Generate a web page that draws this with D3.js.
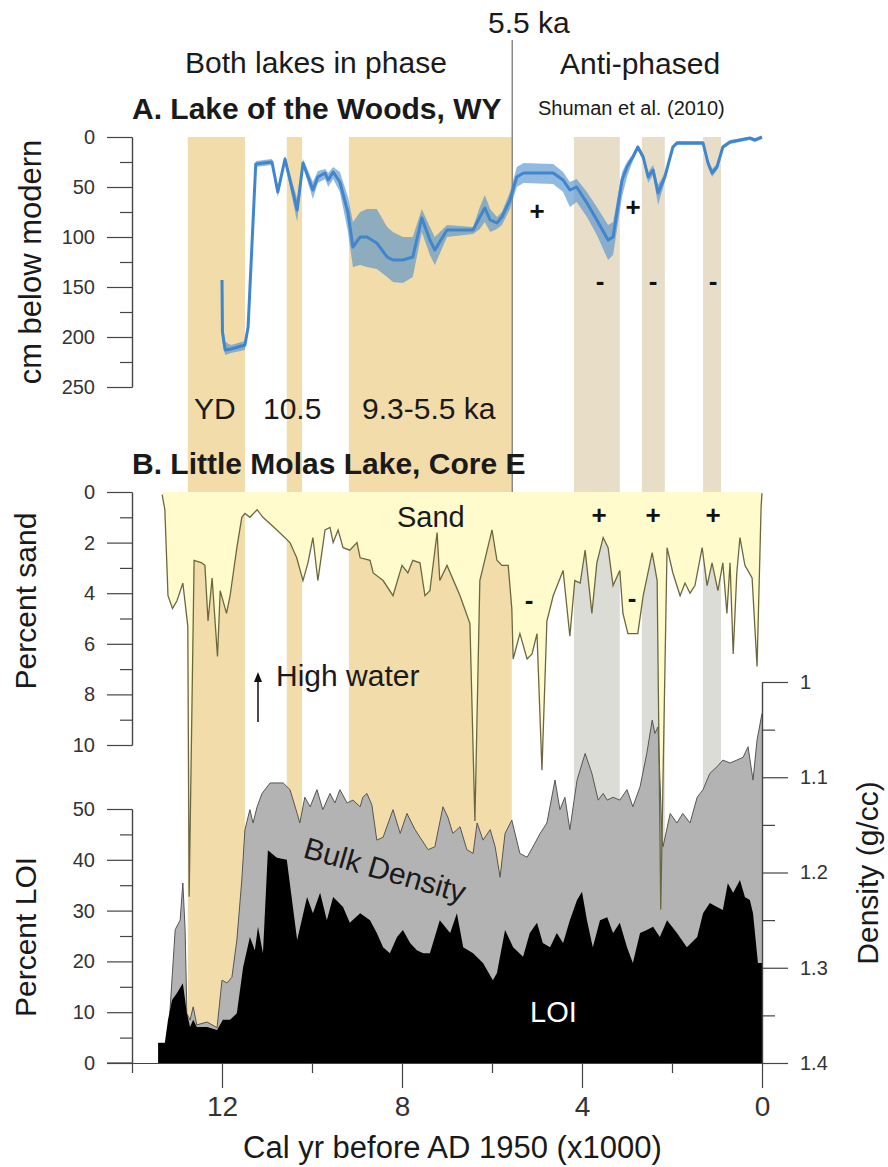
<!DOCTYPE html>
<html lang="en">
<head>
	<meta charset="UTF-8">
	<title>Lake of the Woods / Little Molas Lake</title>
	<script src="https://cdn.jsdelivr.net/npm/d3@7"></script>
	<style>
		body { margin: 0; background: white; }
		svg text { font-family: "Liberation Sans", Arial, Helvetica, sans-serif; }
	</style>
</head>
<body>
	<div id="vis"></div>

	<script>
		var width = 888;
		var height = 1167;

		// ---- data ----
		// shaded intervals (ka)
		var wetBands = [[12.76, 11.49], [10.56, 10.22], [9.18, 5.56]];
		var antiBands = [[4.18, 3.16], [2.67, 2.16], [1.31, 0.91]];

		// A. Lake of the Woods: age (ka), depth (cm below modern), uncertainty envelope
		var lwAge   = [12.00, 11.99, 11.93, 11.80, 11.49, 11.42, 11.25, 10.89, 10.76, 10.60, 10.33, 10.20, 9.98, 9.87, 9.71, 9.64, 9.53, 9.38, 9.20, 9.09, 8.93, 8.78, 8.56, 8.33, 8.20, 7.98, 7.76, 7.56, 7.38, 7.27, 7.00, 6.42, 6.27, 6.16, 6.04, 5.89, 5.78, 5.60, 5.45, 5.30, 4.64, 4.42, 4.27, 4.12, 3.89, 3.67, 3.42, 3.31, 3.11, 3.00, 2.87, 2.76, 2.64, 2.53, 2.42, 2.31, 2.16, 1.98, 1.89, 1.31, 1.20, 1.11, 1.00, 0.87, 0.71, 0.27, 0.16, 0.00];
		var lwDepth = [143, 195, 213, 212, 208, 190, 27, 25, 55, 22, 73, 26, 53, 40, 36, 43, 35, 45, 76, 110, 100, 100, 106, 120, 123, 123, 120, 81, 103, 113, 93, 93, 80, 71, 83, 86, 80, 63, 40, 36, 36, 43, 53, 50, 66, 83, 103, 100, 43, 30, 20, 10, 20, 40, 33, 56, 40, 10, 6, 6, 26, 36, 30, 10, 5, 1, 3, 0];
		var lwLo    = [140, 185, 205, 208, 204, 185, 24, 22, 50, 19, 62, 22, 45, 34, 32, 36, 30, 35, 60, 85, 75, 72, 72, 90, 95, 100, 100, 72, 90, 100, 88, 90, 70, 58, 72, 80, 75, 55, 30, 26, 27, 35, 45, 42, 55, 70, 88, 85, 35, 25, 17, 8, 17, 35, 28, 48, 36, 8, 4, 4, 22, 32, 27, 8, 3, 0, 1, 0];
		var lwHi    = [146, 205, 218, 216, 213, 195, 30, 28, 60, 26, 85, 30, 62, 46, 42, 50, 42, 55, 95, 130, 128, 130, 132, 140, 145, 146, 140, 95, 118, 128, 100, 97, 92, 85, 95, 92, 88, 72, 50, 46, 47, 55, 70, 65, 80, 98, 123, 118, 60, 40, 24, 13, 24, 46, 38, 68, 45, 12, 8, 8, 30, 40, 33, 12, 7, 3, 5, 2];

		// B. Little Molas Lake: percent sand
		var sandAge = [13.33, 13.27, 13.20, 13.10, 13.00, 12.87, 12.76, 12.73, 12.62, 12.45, 12.38, 12.31, 12.22, 12.10, 12.04, 11.90, 11.82, 11.67, 11.56, 11.49, 11.38, 11.22, 11.09, 10.78, 10.49, 10.34, 10.20, 10.09, 9.98, 9.87, 9.71, 9.60, 9.53, 9.42, 9.31, 9.16, 9.00, 8.93, 8.71, 8.64, 8.42, 8.20, 8.00, 7.87, 7.76, 7.60, 7.49, 7.38, 7.22, 7.16, 7.00, 6.71, 6.49, 6.38, 6.27, 6.00, 5.89, 5.78, 5.64, 5.56, 5.53, 5.38, 5.22, 5.11, 5.00, 4.89, 4.78, 4.64, 4.42, 4.27, 4.16, 4.04, 3.93, 3.78, 3.67, 3.53, 3.42, 3.31, 3.16, 3.09, 2.98, 2.76, 2.64, 2.44, 2.33, 2.25, 2.11, 1.98, 1.82, 1.71, 1.60, 1.49, 1.33, 1.22, 1.11, 0.98, 0.87, 0.78, 0.71, 0.64, 0.56, 0.49, 0.38, 0.22, 0.11, 0.02, 0.00];
		var sandPct = [0.1, 0.7, 4.1, 4.6, 4.3, 3.6, 5.3, 16.0, 2.7, 2.8, 2.9, 5.1, 3.4, 6.5, 3.9, 4.8, 4.1, 2.2, 1.0, 0.85, 1.0, 0.7, 1.0, 1.5, 2.0, 2.6, 3.5, 2.8, 1.8, 3.5, 1.5, 1.4, 2.0, 1.5, 2.2, 2.3, 2.0, 2.6, 2.7, 3.2, 3.5, 4.1, 2.9, 3.2, 2.7, 2.8, 4.1, 3.9, 1.6, 3.5, 2.9, 4.1, 5.2, 13.0, 3.5, 1.5, 2.7, 2.9, 2.9, 4.6, 6.6, 5.6, 6.6, 6.4, 5.6, 11.0, 5.1, 4.1, 3.1, 5.7, 3.5, 3.6, 2.3, 4.8, 2.8, 1.8, 2.2, 3.7, 3.1, 4.8, 5.6, 5.6, 4.1, 2.4, 3.5, 16.5, 2.2, 3.2, 4.1, 3.6, 4.0, 3.7, 2.2, 3.7, 2.8, 3.9, 2.8, 4.8, 2.8, 6.4, 3.2, 1.8, 2.9, 3.4, 6.9, 0.6, 0.05];

		// bulk density (g/cc)
		var denAge = [13.16, 13.04, 12.93, 12.87, 12.82, 12.78, 12.71, 12.64, 12.56, 12.33, 12.11, 12.00, 11.89, 11.78, 11.67, 11.56, 11.49, 11.38, 11.31, 11.22, 11.11, 10.93, 10.64, 10.49, 10.33, 10.27, 10.16, 10.04, 9.89, 9.76, 9.60, 9.49, 9.38, 9.22, 9.09, 8.93, 8.87, 8.78, 8.67, 8.56, 8.42, 8.20, 8.04, 7.89, 7.71, 7.60, 7.42, 7.27, 7.09, 6.98, 6.87, 6.71, 6.56, 6.42, 6.33, 6.20, 6.04, 5.93, 5.82, 5.71, 5.56, 5.38, 5.22, 5.09, 4.93, 4.78, 4.60, 4.49, 4.38, 4.27, 4.11, 3.93, 3.78, 3.64, 3.53, 3.44, 3.31, 3.16, 3.00, 2.87, 2.71, 2.56, 2.44, 2.38, 2.31, 2.22, 2.20, 2.04, 1.89, 1.76, 1.60, 1.44, 1.31, 1.16, 1.00, 0.87, 0.71, 0.56, 0.42, 0.31, 0.20, 0.11, 0.00];
		var denVal = [1.348, 1.260, 1.250, 1.211, 1.260, 1.348, 1.355, 1.341, 1.360, 1.357, 1.363, 1.313, 1.316, 1.310, 1.271, 1.208, 1.155, 1.134, 1.148, 1.131, 1.117, 1.106, 1.106, 1.113, 1.138, 1.148, 1.121, 1.131, 1.113, 1.134, 1.117, 1.127, 1.113, 1.127, 1.124, 1.131, 1.121, 1.117, 1.129, 1.166, 1.163, 1.134, 1.159, 1.138, 1.155, 1.163, 1.176, 1.173, 1.131, 1.142, 1.159, 1.152, 1.176, 1.180, 1.148, 1.166, 1.155, 1.173, 1.205, 1.159, 1.145, 1.180, 1.184, 1.173, 1.159, 1.148, 1.103, 1.134, 1.121, 1.155, 1.103, 1.075, 1.096, 1.124, 1.117, 1.124, 1.121, 1.124, 1.113, 1.131, 1.110, 1.075, 1.040, 1.054, 1.047, 1.166, 1.173, 1.138, 1.148, 1.138, 1.148, 1.121, 1.113, 1.096, 1.089, 1.082, 1.085, 1.082, 1.079, 1.068, 1.103, 1.061, 1.033];

		// loss on ignition (%)
		var loiAge = [13.42, 13.27, 13.20, 13.11, 13.00, 12.87, 12.78, 12.71, 12.64, 12.56, 12.33, 12.11, 11.98, 11.82, 11.67, 11.53, 11.38, 11.27, 11.20, 11.09, 10.98, 10.78, 10.56, 10.33, 10.11, 9.98, 9.82, 9.67, 9.53, 9.31, 9.16, 8.93, 8.71, 8.56, 8.42, 8.27, 8.11, 7.98, 7.82, 7.67, 7.53, 7.38, 7.16, 6.93, 6.78, 6.64, 6.42, 6.20, 5.98, 5.89, 5.71, 5.53, 5.31, 5.16, 5.00, 4.87, 4.71, 4.56, 4.42, 4.27, 4.11, 4.00, 3.89, 3.76, 3.60, 3.44, 3.31, 3.16, 3.00, 2.87, 2.71, 2.56, 2.42, 2.27, 2.11, 1.89, 1.67, 1.44, 1.31, 1.16, 1.00, 0.87, 0.76, 0.64, 0.49, 0.38, 0.27, 0.20, 0.09, 0.00];
		var loiPct = [4.0, 4.0, 8.5, 12.4, 13.8, 15.7, 9.8, 7.1, 8.5, 7.1, 7.1, 6.5, 8.5, 8.5, 9.8, 18.9, 24.8, 22.2, 26.8, 21.6, 41.9, 40.4, 40.0, 24.2, 32.7, 29.5, 33.5, 28.1, 32.7, 30.7, 27.6, 29.5, 28.1, 25.6, 22.8, 21.6, 24.8, 26.2, 23.6, 22.2, 21.6, 21.6, 28.1, 25.6, 29.5, 22.8, 21.6, 19.7, 16.3, 17.7, 26.2, 22.8, 20.9, 25.6, 27.6, 23.6, 22.8, 25.6, 23.6, 28.1, 32.1, 33.7, 28.1, 22.8, 28.1, 28.7, 25.6, 27.6, 22.8, 19.7, 25.6, 26.2, 26.8, 24.8, 28.1, 25.6, 22.8, 24.8, 29.5, 31.5, 30.7, 30.1, 35.4, 33.5, 36.0, 32.7, 32.1, 29.5, 19.7, 19.7];

		// tick values
		var xMajor = [12, 8, 4, 0];
		var xMinor = [14, 10, 6, 2];
		var depthMajor = [0, 50, 100, 150, 200, 250];
		var depthMinor = [25, 75, 125, 175, 225];
		var sandMajor = [0, 2, 4, 6, 8, 10];
		var sandMinor = [1, 3, 5, 7, 9];
		var loiMajor = [0, 10, 20, 30, 40, 50];
		var loiMinor = [5, 15, 25, 35, 45];
		var denMajor = [1.0, 1.1, 1.2, 1.3, 1.4];
		var denMinor = [1.05, 1.15, 1.25, 1.35];

		// ---- scales ----
		var x = d3.scaleLinear().domain([14, 0]).range([132, 762]);
		var yA = d3.scaleLinear().domain([0, 250]).range([137, 387]);
		var ySand = d3.scaleLinear().domain([0, 10]).range([492, 745]);
		var yLoi = d3.scaleLinear().domain([0, 50]).range([1063, 809]);
		var yDen = d3.scaleLinear().domain([1.0, 1.4]).range([682, 1063]);

		var svg = d3.select("#vis").append("svg")
				.attr("width", width)
				.attr("height", height);

		// ---- shaded intervals ----
		var bandTop = yA(0), bandBottom = yLoi(0), splitY = ySand(0);
		svg.selectAll("rect.wet").data(wetBands).enter().append("rect")
			.attr("x", function(d) { return x(d[0]); })
			.attr("width", function(d) { return x(d[1]) - x(d[0]); })
			.attr("y", bandTop)
			.attr("height", bandBottom - bandTop)
			.attr("fill", "#f2dcaa");

		svg.selectAll("rect.antiTop").data(antiBands).enter().append("rect")
			.attr("x", function(d) { return x(d[0]); })
			.attr("width", function(d) { return x(d[1]) - x(d[0]); })
			.attr("y", bandTop)
			.attr("height", splitY - bandTop)
			.attr("fill", "#e8dec8");

		svg.selectAll("rect.antiBot").data(antiBands).enter().append("rect")
			.attr("x", function(d) { return x(d[0]); })
			.attr("width", function(d) { return x(d[1]) - x(d[0]); })
			.attr("y", splitY)
			.attr("height", bandBottom - splitY)
			.attr("fill", "#dcdcd6");

		// 5.5 ka divider
		svg.append("line")
			.attr("x1", x(5.55)).attr("x2", x(5.55))
			.attr("y1", 40).attr("y2", splitY)
			.attr("stroke", "#8a8a8a")
			.attr("stroke-width", 1.5);

		// ---- panel A ----
		var idxA = d3.range(lwAge.length);
		svg.append("path")
			.attr("d", d3.area()
				.x(function(i) { return x(lwAge[i]); })
				.y0(function(i) { return yA(lwLo[i]); })
				.y1(function(i) { return yA(lwHi[i]); })(idxA))
			.attr("fill", "#4a8ccc")
			.attr("fill-opacity", 0.6);

		svg.append("path")
			.attr("d", d3.line()
				.x(function(i) { return x(lwAge[i]); })
				.y(function(i) { return yA(lwDepth[i]); })(idxA))
			.attr("fill", "none")
			.attr("stroke", "#3f86cf")
			.attr("stroke-width", 3)
			.attr("stroke-linejoin", "round");

		// ---- panel B: sand ----
		var idxS = d3.range(sandAge.length);
		svg.append("path")
			.attr("d", d3.area()
				.x(function(i) { return x(sandAge[i]); })
				.y0(ySand(0))
				.y1(function(i) { return ySand(sandPct[i]); })(idxS))
			.attr("fill", "#fffbcd");

		// bulk density (filled down to the axis)
		var idxD = d3.range(denAge.length);
		svg.append("path")
			.attr("d", d3.area()
				.x(function(i) { return x(denAge[i]); })
				.y0(yDen(1.4))
				.y1(function(i) { return yDen(denVal[i]); })(idxD))
			.attr("fill", "#b3b3b3");
		svg.append("path")
			.attr("d", d3.line()
				.x(function(i) { return x(denAge[i]); })
				.y(function(i) { return yDen(denVal[i]); })(idxD))
			.attr("fill", "none")
			.attr("stroke", "#555")
			.attr("stroke-width", 1);

		// LOI
		var idxL = d3.range(loiAge.length);
		svg.append("path")
			.attr("d", d3.area()
				.x(function(i) { return x(loiAge[i]); })
				.y0(yLoi(0))
				.y1(function(i) { return yLoi(loiPct[i]); })(idxL))
			.attr("fill", "#000");

		// sand line on top
		svg.append("path")
			.attr("d", d3.line()
				.x(function(i) { return x(sandAge[i]); })
				.y(function(i) { return ySand(sandPct[i]); })(idxS))
			.attr("fill", "none")
			.attr("stroke", "#6b6840")
			.attr("stroke-width", 1.3);

		// ---- axes ----
		function styleAxis(g, fontSize) {
			g.selectAll("path, line").attr("stroke", "#444").attr("stroke-width", 1.2);
			g.selectAll("text").attr("fill", "#333").style("font-size", fontSize + "px");
		}

		function leftAxis(scale, major, minor, fmt) {
			svg.append("g")
				.attr("transform", "translate(132,0)")
				.call(d3.axisLeft(scale).tickValues(major).tickSize(25).tickSizeOuter(0).tickPadding(12).tickFormat(fmt))
				.call(styleAxis, 20);
			svg.append("g")
				.attr("transform", "translate(132,0)")
				.call(d3.axisLeft(scale).tickValues(minor).tickSize(12).tickSizeOuter(0).tickFormat(""))
				.call(styleAxis, 20);
		}

		leftAxis(yA, depthMajor, depthMinor, d3.format("d"));
		leftAxis(ySand, sandMajor, sandMinor, d3.format("d"));
		leftAxis(yLoi, loiMajor, loiMinor, d3.format("d"));

		// right density axis
		svg.append("g")
			.attr("transform", "translate(762,0)")
			.call(d3.axisRight(yDen).tickValues(denMajor).tickSize(26).tickSizeOuter(0).tickPadding(12)
				.tickFormat(function(d) { return d === 1 ? "1" : d3.format(".1f")(d); }))
			.call(styleAxis, 20);
		svg.append("g")
			.attr("transform", "translate(762,0)")
			.call(d3.axisRight(yDen).tickValues(denMinor).tickSize(13).tickSizeOuter(0).tickFormat(""))
			.call(styleAxis, 20);

		// x axis
		svg.append("g")
			.attr("transform", "translate(0," + yLoi(0) + ")")
			.call(d3.axisBottom(x).tickValues(xMajor).tickSize(25).tickSizeOuter(0).tickPadding(8).tickFormat(d3.format("d")))
			.call(styleAxis, 28);
		svg.append("g")
			.attr("transform", "translate(0," + yLoi(0) + ")")
			.call(d3.axisBottom(x).tickValues(xMinor).tickSize(10).tickSizeOuter(0).tickFormat(""))
			.call(styleAxis, 28);
		// LOI zero tick extends left of the axis
		svg.append("line")
			.attr("x1", 107).attr("x2", 132)
			.attr("y1", yLoi(0)).attr("y2", yLoi(0))
			.attr("stroke", "#444").attr("stroke-width", 1.2);

		// ---- labels ----
		function label(txt, tx, ty, size, opts) {
			opts = opts || {};
			var t = svg.append("text")
				.attr("x", tx).attr("y", ty)
				.attr("fill", opts.fill || "#1a1a1a")
				.attr("text-anchor", opts.anchor || "start")
				.style("font-size", size + "px")
				.style("font-weight", opts.bold ? "bold" : "normal")
				.text(txt);
			if (opts.rotate !== undefined) t.attr("transform", "rotate(" + opts.rotate + "," + tx + "," + ty + ")");
			if (opts.central) t.attr("dominant-baseline", "central");
			return t;
		}

		label("5.5 ka", 488, 33, 30);
		label("Both lakes in phase", 185, 73, 30);
		label("Anti-phased", 560, 74, 30);
		label("A. Lake of the Woods, WY", 132, 119, 30, {bold: true});
		label("Shuman et al. (2010)", 538, 115, 20);
		label("YD", 194, 419, 30);
		label("10.5", 263, 419, 30);
		label("9.3-5.5 ka", 362, 419, 30);
		label("B. Little Molas Lake, Core E", 132, 474, 30, {bold: true});
		label("Sand", 397, 527, 29);
		label("High water", 276, 686, 30);
		label("Bulk Density", 302, 857, 30, {rotate: 16});
		label("LOI", 530, 1022, 29, {fill: "#fff"});

		// axis titles
		label("cm below modern", 41, yA(125), 31, {anchor: "middle", rotate: -90});
		label("Percent sand", 36, 601, 30, {anchor: "middle", rotate: -90});
		label("Percent LOI", 36, 937, 30, {anchor: "middle", rotate: -90});
		label("Density (g/cc)", 878, 873, 30, {anchor: "middle", rotate: -90});
		label("Cal yr before AD 1950 (x1000)", 243, 1158, 31);

		// high-water arrow
		svg.append("line")
			.attr("x1", 258).attr("x2", 258)
			.attr("y1", 722).attr("y2", 680)
			.attr("stroke", "#111").attr("stroke-width", 1.5);
		svg.append("path")
			.attr("d", "M254,682 L258,672 L262,682 Z")
			.attr("fill", "#111");

		// +/- markers
		var marks = [
			["+", 537, 211], ["+", 633, 207],
			["-", 600, 281], ["-", 653, 281], ["-", 713, 281],
			["+", 599, 515], ["+", 653, 515], ["+", 713, 515],
			["-", 529, 600], ["-", 632, 598]
		];
		marks.forEach(function(m) {
			label(m[0], m[1], m[2], 26, {bold: true, anchor: "middle", central: true, fill: "#111"});
		});
	</script>
</body>
</html>
